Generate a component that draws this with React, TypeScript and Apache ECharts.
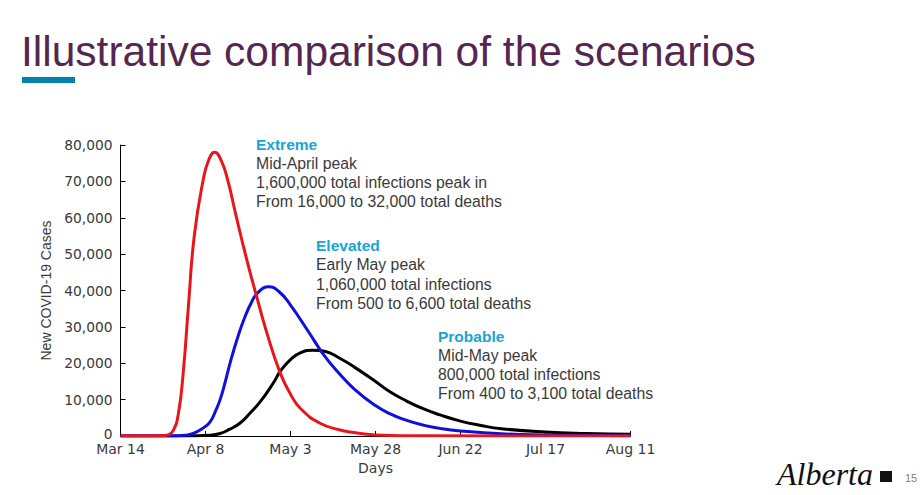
import React, { useEffect, useRef } from "react";
import * as echarts from "echarts";

// Tick labels for the day axis (every 25 days from Mar 14)
const dayTickLabels = ["Mar 14", "Apr 8", "May 3", "May 28", "Jun 22", "Jul 17", "Aug 11"];

// [day since Mar 14, new cases]
const extremeSeries: [number, number][] = [
  [0, 0], [12, 50], [14, 300], [15.5, 1500], [17, 6000], [18.5, 18000], [20, 36000],
  [21.7, 55000], [24.3, 70300], [26, 76000], [27.7, 78000], [29.5, 76000], [31.5, 70500],
  [34, 60500], [37, 49000], [40, 38500], [43, 28500], [46.9, 17500], [50, 11500],
  [53, 7500], [58.7, 3500], [64.6, 1650], [67.5, 1100], [75, 300], [90, 50], [150, 0],
];

const elevatedSeries: [number, number][] = [
  [0, 0], [15, 0], [19, 200], [21.4, 700], [24, 2000], [26.3, 3800], [28, 7000],
  [29.3, 10000], [30.7, 14500], [32.5, 21000], [34.6, 27500], [36.5, 32500], [38.4, 36500],
  [40.5, 39500], [43.6, 41000], [46.5, 39800], [50, 36000], [55.2, 28800], [60, 22000],
  [64.6, 16900], [69, 12700], [74.4, 8700], [79, 6200], [84.2, 4300], [89, 3000],
  [94, 2100], [100, 1400], [112, 600], [125, 300], [150, 100],
];

const probableSeries: [number, number][] = [
  [0, 0], [20, 0], [26, 200], [29.3, 700], [32, 1800], [35.1, 3500], [38, 6200],
  [41, 9300], [44.9, 14500], [47, 17800], [50, 21000], [53, 22900], [56.5, 23600],
  [60, 23300], [64.6, 21300], [69, 18800], [74.4, 15400], [79, 12300], [84.2, 9600],
  [89, 7500], [94, 5800], [100, 4100], [106, 2900], [112, 2000], [125, 1100],
  [137, 700], [150, 500],
];

const titleText = "Illustrative comparison of the scenarios";

const annotationHeads = ["Extreme", "Elevated", "Probable"];
const annotationLines = [
  ["Mid-April peak", "1,600,000 total infections peak in", "From 16,000 to 32,000 total deaths"],
  ["Early May peak", "1,060,000 total infections", "From 500 to 6,600 total deaths"],
  ["Mid-May peak", "800,000 total infections", "From 400 to 3,100 total deaths"],
];

export default function App() {
  const ref = useRef<HTMLDivElement>(null);

  useEffect(() => {
    if (!ref.current) return;
    const chart = echarts.init(ref.current, null, { renderer: "svg" });

    const annPos = [
      { x: 256, y: 144 },
      { x: 316, y: 245.5 },
      { x: 438, y: 336 },
    ];
    const lineH = 19.3;
    const graphics: any[] = [
      {
        type: "text",
        x: 21,
        y: 51,
        style: {
          text: titleText,
          font: '42.5px "Liberation Sans", Arial, sans-serif',
          fill: "#55264f",
          verticalAlign: "middle",
        },
      },
      {
        type: "rect",
        shape: { x: 22, y: 77, width: 53, height: 6 },
        style: { fill: "#0082ab" },
      },
      {
        type: "text",
        x: 777,
        y: 474,
        style: {
          text: "Alberta",
          font: 'italic 32px "Liberation Serif", serif',
          fill: "#111",
          verticalAlign: "middle",
        },
      },
      {
        type: "rect",
        shape: { x: 880, y: 471, width: 12, height: 11 },
        style: { fill: "#111" },
      },
      {
        type: "text",
        x: 905,
        y: 478,
        style: {
          text: "15",
          font: '11px "Liberation Sans", Arial, sans-serif',
          fill: "#808080",
          verticalAlign: "middle",
        },
      },
    ];
    annotationHeads.forEach((h, i) => {
      const p = annPos[i];
      graphics.push({
        type: "text",
        x: p.x,
        y: p.y,
        style: {
          text: h,
          font: 'bold 15.5px "Liberation Sans", Arial, sans-serif',
          fill: "#17a5d3",
          verticalAlign: "middle",
        },
      });
      annotationLines[i].forEach((t, j) => {
        graphics.push({
          type: "text",
          x: p.x,
          y: p.y + lineH * (j + 1),
          style: {
            text: t,
            font: '15.8px "Liberation Sans", Arial, sans-serif',
            fill: "#3a3a3a",
            verticalAlign: "middle",
          },
        });
      });
    });

    const lineSeries = (name: string, data: [number, number][], color: string) => ({
      name,
      type: "line",
      data,
      smooth: 0.5,
      showSymbol: false,
      symbol: "none",
      lineStyle: { color, width: 3 },
      z: 3,
    });

    chart.setOption({
      animation: false,
      backgroundColor: "#ffffff",
      grid: { left: 120.5, right: 293.5, top: 145, bottom: 59, containLabel: false },
      xAxis: {
        type: "value",
        min: 0,
        max: 150,
        interval: 25,
        name: "Days",
        nameLocation: "middle",
        nameGap: 21,
        nameTextStyle: { fontFamily: "DejaVu Sans", fontSize: 14, color: "#3a3a3a" },
        axisLine: { show: true, lineStyle: { color: "#000", width: 1 } },
        axisTick: { show: true, inside: true, length: 5, lineStyle: { color: "#000" } },
        splitLine: { show: false },
        axisLabel: {
          margin: 6,
          fontFamily: "DejaVu Sans",
          fontSize: 14,
          color: "#3a3a3a",
          formatter: (v: number) => dayTickLabels[Math.round(v / 25)] ?? "",
        },
      },
      yAxis: {
        type: "value",
        min: 0,
        max: 80000,
        interval: 10000,
        name: "New COVID-19 Cases",
        nameLocation: "middle",
        nameRotate: 90,
        nameGap: 64,
        nameTextStyle: { fontFamily: "Liberation Sans", fontSize: 14, color: "#3a3a3a" },
        axisLine: { show: true, lineStyle: { color: "#000", width: 1 } },
        axisTick: { show: true, inside: true, length: 5, lineStyle: { color: "#000" } },
        splitLine: { show: false },
        axisLabel: {
          margin: 8,
          fontFamily: "DejaVu Sans",
          fontSize: 13.8,
          color: "#3a3a3a",
          formatter: (v: number) => (v === 0 ? "{z|0}" : v.toLocaleString("en-US")),
          rich: {
            z: {
              fontFamily: "DejaVu Sans",
              fontSize: 13.8,
              color: "#3a3a3a",
              padding: [0, 0, 5, 0],
            },
          },
        },
      },
      series: [
        lineSeries("Probable", probableSeries, "#000000"),
        lineSeries("Elevated", elevatedSeries, "#1010dd"),
        lineSeries("Extreme", extremeSeries, "#e8161c"),
      ],
      graphic: graphics,
    });

    return () => chart.dispose();
  }, []);

  return (
    <div
      ref={ref}
      style={{ position: "fixed", left: 0, top: 0, width: 924, height: 495, background: "#fff" }}
    />
  );
}
